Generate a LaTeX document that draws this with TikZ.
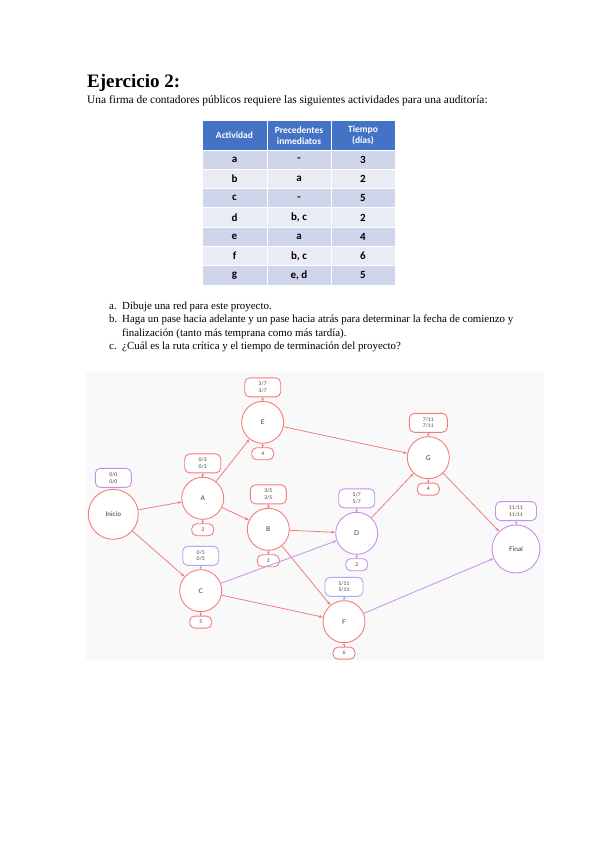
\documentclass[tikz,border=0pt]{standalone}
\usepackage{fontspec}
\setmainfont{Liberation Serif}
\newfontfamily\tablefont{Carlito}
\newfontfamily\netfont{Lato}
\usetikzlibrary{arrows.meta, positioning}
\definecolor{tblhead}{HTML}{4472C4}
\definecolor{tblodd}{HTML}{CFD5EA}
\definecolor{tbleven}{HTML}{E9EBF5}
\definecolor{netbg}{HTML}{F9F9F9}
\definecolor{netred}{HTML}{F47C7C}
\definecolor{netpurple}{HTML}{C690EA}
\definecolor{netblue}{HTML}{A9A9F5}
\definecolor{textmain}{HTML}{3A3A3A}

\begin{document}
\begin{tikzpicture}[
        x=1pt, y=-1pt,
        node distance=3.5pt,
        txt/.style={anchor=base west, inner sep=0pt},
        cell/.style={
            rectangle,
            draw=white,
            line width=1pt,
            minimum height=19.3pt,
            text=black,
            font=\tablefont\bfseries\fontsize{11}{12}\selectfont
        },
        headcell/.style={
            cell,
            fill=tblhead,
            text=white,
            minimum height=29pt,
            align=center,
            font=\tablefont\bfseries\fontsize{9.5}{10.5}\selectfont
        },
        act/.style={
            circle,
            draw=netred,
            fill=white,
            line width=0.9pt,
            minimum size=42pt,
            inner sep=0pt,
            text=textmain,
            font=\netfont\fontsize{6.5}{7}\selectfont
        },
        tag/.style={
            rectangle,
            rounded corners=5pt,
            draw=netred,
            fill=white,
            line width=0.9pt,
            minimum width=36pt,
            minimum height=19pt,
            inner sep=1pt,
            align=center,
            text=textmain,
            font=\netfont\fontsize{5}{6.8}\selectfont
        },
        dur/.style={tag, minimum width=22pt, minimum height=12pt},
        link/.style={
            -{Stealth[length=4pt, width=3pt]},
            draw=netred,
            line width=0.8pt
        },
        stub/.style={
            -{Stealth[length=2.5pt, width=2.5pt]},
            draw=netred,
            line width=0.8pt,
            shorten <=-0.5pt
        }
    ]

    \useasboundingbox[fill=white] (0,0) rectangle (599,848);

    % Heading
    \node[txt, font=\bfseries\fontsize{19}{22}\selectfont] (title) at (87,88) {Ejercicio 2:};
    \node[txt, font=\fontsize{11.4}{13}\selectfont] (intro) at (87,104) {Una firma de contadores públicos requiere las siguientes actividades para una auditoría:};

    % Table
    \node[headcell, minimum width=65pt] (h-act) at (234.5,135.5) {Actividad};
    \node[headcell, minimum width=64pt] (h-prec) at (299,135.5) {Precedentes\\inmediatos};
    \node[headcell, minimum width=64pt] (h-time) at (363,135.5) {Tiempo\\(días)};
    \foreach \act/\prec/\dur/\shade [count=\i] in {a/-/3/tblodd, b/a/2/tbleven, c/-/5/tblodd, d/{b, c}/2/tbleven, e/a/4/tblodd, f/{b, c}/6/tbleven, g/{e, d}/5/tblodd}{
        \node[cell, fill=\shade, minimum width=65pt] (act-\i) at (234.5,140.35+19.3*\i) {\act};
        \node[cell, fill=\shade, minimum width=64pt] (prec-\i) at (299,140.35+19.3*\i) {\prec};
        \node[cell, fill=\shade, minimum width=64pt] (time-\i) at (363,140.35+19.3*\i) {\dur};
    }

    % Questions
    \begin{scope}[font=\fontsize{10.9}{13}\selectfont]
        \node[txt] (qa-lbl) at (109,309) {a.};
        \node[txt] (qa) at (122,309) {Dibuje una red para este proyecto.};
        \node[txt] (qb-lbl) at (109,322.5) {b.};
        \node[txt] (qb) at (122,322.5) {Haga un pase hacia adelante y un pase hacia atrás para determinar la fecha de comienzo y};
        \node[txt] (qb2) at (122,336) {finalización (tanto más temprana como más tardía).};
        \node[txt] (qc-lbl) at (109,349.5) {c.};
        \node[txt] (qc) at (122,349.5) {¿Cuál es la ruta crítica y el tiempo de terminación del proyecto?};
    \end{scope}

    % Network background
    \fill[netbg] (86,372) rectangle (544,660);

    % Activities
    \node[act, minimum size=50pt] (ini) at (113.3,514.3) {Inicio};
    \node[act] (A) at (202.7,498.3) {A};
    \node[act] (E) at (262.7,422.3) {E};
    \node[act] (B) at (268.3,529.3) {B};
    \node[act] (C) at (200.7,590.7) {C};
    \node[act, draw=netpurple] (D) at (356.7,533.3) {D};
    \node[act] (G) at (428.3,457.7) {G};
    \node[act] (F) at (344,621.7) {F};
    \node[act, draw=netpurple, minimum size=48pt] (fin) at (516,549) {Final};

    % Early/late times
    \node[tag, draw=netpurple, above=1pt of ini] (ini-t) {0/0\\0/0};
    \node[tag, above=of A] (A-t) {0/3\\0/3};
    \node[dur, below=of A] (A-d) {3};
    \node[tag, above=of E] (E-t) {3/7\\3/7};
    \node[dur, below=of E] (E-d) {4};
    \node[tag, above=of B] (B-t) {3/5\\3/5};
    \node[dur, below=of B] (B-d) {2};
    \node[tag, draw=netblue, above=of C] (C-t) {0/5\\0/5};
    \node[dur, below=of C] (C-d) {5};
    \node[tag, draw=netpurple, above=of D] (D-t) {5/7\\5/7};
    \node[dur, draw=netpurple, below=of D] (D-d) {2};
    \node[tag, above=of G, minimum width=38pt] (G-t) {7/11\\7/11};
    \node[dur, below=of G] (G-d) {4};
    \node[tag, draw=netblue, above=of F, minimum width=38pt] (F-t) {5/11\\5/11};
    \node[dur, below=of F] (F-d) {6};
    \node[tag, draw=netpurple, above=of fin, minimum width=41pt] (fin-t) {11/11\\11/11};

    % Stubs
    \draw[stub] (A) -- (A-t);
    \draw[stub] (A-d) -- (A);
    \draw[stub] (E) -- (E-t);
    \draw[stub] (E-d) -- (E);
    \draw[stub] (B) -- (B-t);
    \draw[stub] (B-d) -- (B);
    \draw[stub, draw=netblue] (C) -- (C-t);
    \draw[stub] (C-d) -- (C);
    \draw[stub, draw=netpurple] (D) -- (D-t);
    \draw[stub, draw=netpurple] (D-d) -- (D);
    \draw[stub] (G-t) -- (G);
    \draw[stub] (G-d) -- (G);
    \draw[stub, draw=netblue] (F-t) -- (F);
    \draw[stub] (F-d) -- (F);
    \draw[stub, draw=netpurple] (fin) -- (fin-t);

    % Precedences
    \draw[link] (ini) -- (A);
    \draw[link] (ini) -- (C);
    \draw[link] (A) -- (E);
    \draw[link] (A) -- (B);
    \draw[link] (E) -- (G);
    \draw[link] (B) -- (D);
    \draw[link] (B) -- (F);
    \draw[link, draw=netpurple] (C) -- (D);
    \draw[link] (C) -- (F);
    \draw[link] (D) -- (G);
    \draw[link] (G) -- (fin);
    \draw[link, draw=netpurple] (F) -- (fin);

\end{tikzpicture}
\end{document}
